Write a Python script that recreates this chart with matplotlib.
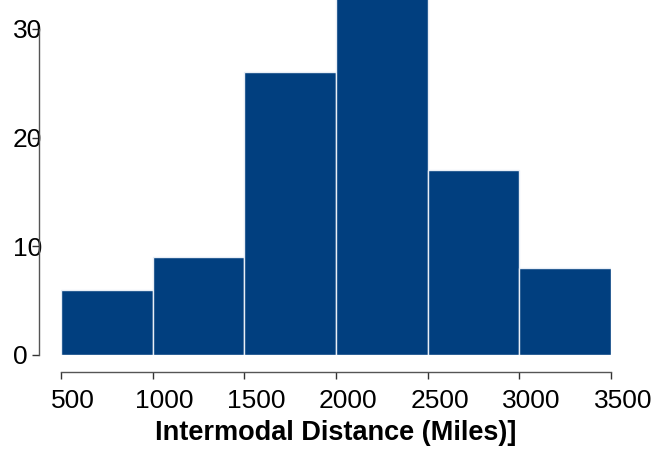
import numpy as np
import matplotlib
matplotlib.use("Agg")
import matplotlib.pyplot as plt
import matplotlib.transforms as mtransforms

# histogram data
bin_edges = [500, 1000, 1500, 2000, 2500, 3000, 3500]
counts = [6, 9, 26, 34, 17, 8]
xticks = [500, 1000, 1500, 2000, 2500, 3000, 3500]
yticks = [0, 10, 20, 30]

plt.rcParams['font.family'] = ['Liberation Sans', 'DejaVu Sans']

W, H = 660, 454
fig = plt.figure(figsize=(W/100, H/100), dpi=100)
# axes: x 500..3500 -> px 61..611, y 0 -> px 355, ~10.87 px per unit
ppu = 10.87
ax = fig.add_axes([61/W, (H-355)/H, 550/W, 355/H])

lefts = np.array(bin_edges[:-1])
widths = np.diff(bin_edges)
ax.bar(lefts, counts, width=widths, align='edge', color='#013f7f',
       edgecolor='#e8eef6', linewidth=1.0)

ax.set_xlim(500, 3500)
ax.set_ylim(0, 355/ppu)

for s in ['top', 'right']:
    ax.spines[s].set_visible(False)
ax.spines['left'].set_position(('outward', 22*0.72))
ax.spines['bottom'].set_position(('outward', 17*0.72))
ax.spines['left'].set_bounds(0, 30)
ax.spines['bottom'].set_bounds(500, 3500)
for s in ['left', 'bottom']:
    ax.spines[s].set_color('#555555')
    ax.spines[s].set_linewidth(1.0)

ax.set_xticks(xticks)
ax.set_yticks(yticks)
ax.tick_params(axis='both', colors='#333333', length=7*0.72, width=1.0,
               labelsize=19, labelcolor='black')
ax.tick_params(axis='x', pad=10*0.72)
ax.tick_params(axis='y', pad=19*0.72)

for lab in ax.get_yticklabels():
    lab.set_horizontalalignment('left')
offset = mtransforms.ScaledTranslation(12/100, 0, fig.dpi_scale_trans)
for lab in ax.get_xticklabels():
    lab.set_transform(lab.get_transform() + offset)

ax.set_xlabel('Intermodal Distance (Miles)]', fontsize=19.5, fontweight='bold',
              labelpad=5)

fig.savefig('out.png', dpi=100)
